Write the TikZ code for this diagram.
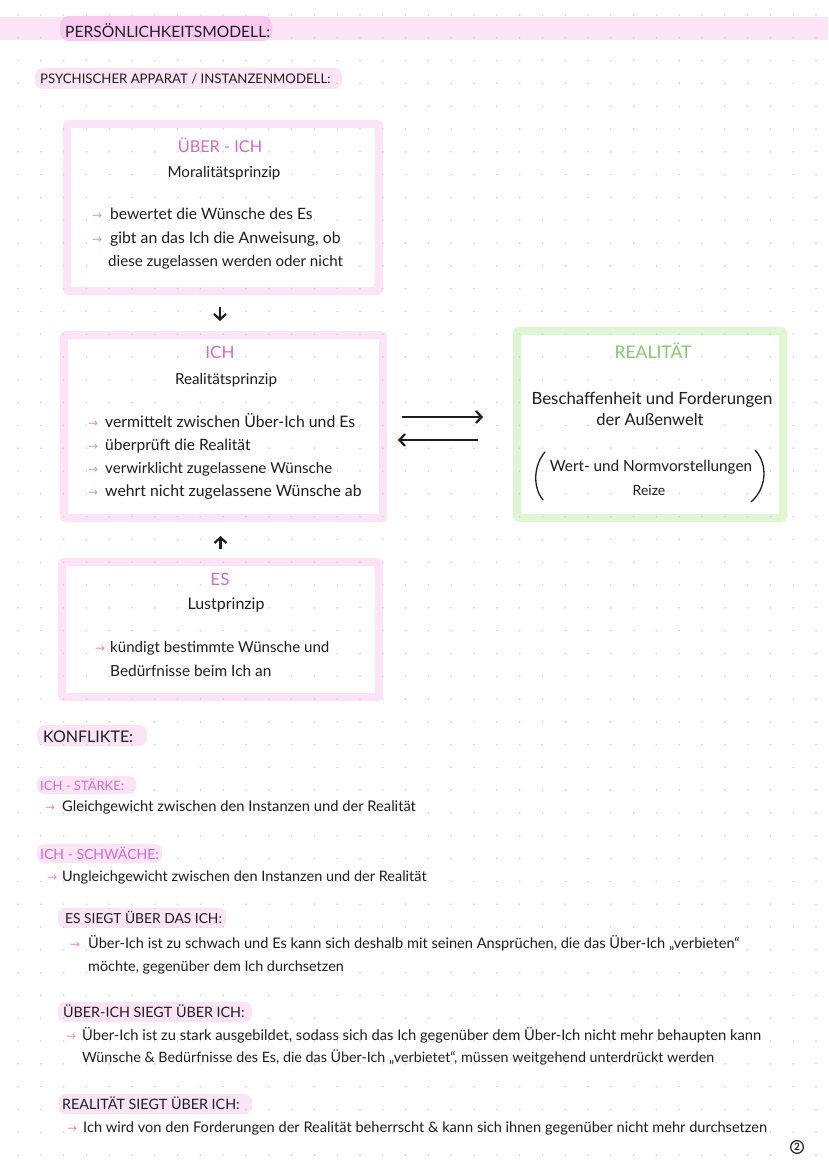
\documentclass[tikz,border=0pt]{standalone}
\usepackage{fontspec}
\setmainfont{Lato}
\newfontfamily\symfont{DejaVu Sans}
\usetikzlibrary{arrows.meta}
\definecolor{pinktxt}{HTML}{D46BC6}
\definecolor{pinkarr}{HTML}{E58AD2}
\definecolor{pinkband}{HTML}{FCE4F7}
\definecolor{pinkhl}{HTML}{F9C8EF}
\definecolor{pinkhl2}{HTML}{FCE4F7}
\definecolor{pinkbord}{HTML}{FCE3F8}
\definecolor{greenbord}{HTML}{DDF7D2}
\definecolor{greentxt}{HTML}{7FCC6C}
\definecolor{ink}{HTML}{1E1E1E}
\definecolor{dotc}{HTML}{D2D2D2}
\newcommand\parr{{\symfont\color{pinkarr}\fontsize{12}{12}\selectfont →}}
\newcommand\bul[1]{\makebox[#1pt][l]{\parr}}
\tikzset{
  pinkbox/.style={draw=pinkbord, line width=8pt, rounded corners=2pt, inner sep=0pt},
  greenbox/.style={draw=greenbord, line width=8pt, rounded corners=2pt, inner sep=0pt},
  fs/.style={font=\fontsize{#1}{#1}\selectfont},
  txt/.style={anchor=base west, inner sep=0pt, text=ink},
  ctxt/.style={anchor=base, inner sep=0pt, text=ink},
  ttl/.style={anchor=base, inner sep=0pt, text=pinktxt, font=\fontsize{17}{17}\selectfont},
  sub/.style={anchor=base west, inner sep=0pt, text=pinktxt},
  arr/.style={-{Straight Barb[length=5.5pt,width=12pt]}, line width=2.2pt, draw=ink},
}
\begin{document}
\begin{tikzpicture}[x=1pt,y=-1pt]
\useasboundingbox (0,0) rectangle (828,1169);
\fill[white] (0,0) rectangle (828,1169);
% highlights
\fill[pinkband] (0,17) rectangle (828,40);
\fill[pinkhl, rounded corners=9pt] (60,16) rectangle (272,41);
\fill[pinkband, rounded corners=8pt] (35,68) rectangle (342,89);
\fill[pinkhl2, rounded corners=8pt] (37,725) rectangle (147,746);
\fill[pinkhl2, rounded corners=7pt] (37,776) rectangle (136,794);
\fill[pinkhl2, rounded corners=7pt] (37,844) rectangle (162,863);
\fill[pinkhl2, rounded corners=7pt] (58,908) rectangle (226,928);
\fill[pinkhl2, rounded corners=7pt] (58,1002) rectangle (252,1022);
\fill[pinkhl2, rounded corners=7pt] (58,1094) rectangle (252,1114);
% boxes
\node[pinkbox, minimum width=312pt, minimum height=167pt] (ueber) at (223,207.5) {};
\node[pinkbox, minimum width=319pt, minimum height=183pt] (ich) at (223.5,426.5) {};
\node[greenbox, minimum width=266pt, minimum height=187pt] (real) at (650,424.5) {};
\node[pinkbox, minimum width=317pt, minimum height=135pt] (es) at (220.5,629.5) {};
% dot grid
\foreach \i in {0,...,35} \foreach \j in {0,...,50}
  \fill[dotc] (18+22.8*\i, 15+22.8*\j) circle (0.9pt);
% headings
\node[txt, fs=15.6] (t1) at (65,38) {PERSÖNLICHKEITSMODELL:};
\node[txt, fs=13.2] (t2) at (40,84) {PSYCHISCHER APPARAT / INSTANZENMODELL:};
% UEBER-ICH
\node[ttl, font=\fontsize{16.3}{16.3}\selectfont] (ueT) at (220,153) {ÜBER - ICH};
\node[ctxt, fs=15.2] (ueP) at (224,178) {Moralitätsprinzip};
\node[txt, fs=15.6] (ue1) at (92,219) {\bul{18}bewertet die Wünsche des Es};
\node[txt, fs=15.8] (ue2) at (92,243) {\bul{18}gibt an das Ich die Anweisung, ob};
\node[txt, fs=15.1] (ue3) at (108,266) {diese zugelassen werden oder nicht};
% ICH
\node[ttl] (ichT) at (220,358) {ICH};
\node[ctxt, fs=15.2] (ichP) at (226,384) {Realitätsprinzip};
\node[txt, fs=15.8] (ich1) at (88,427) {\bul{17}vermittelt zwischen Über-Ich und Es};
\node[txt, fs=15.6] (ich2) at (88,450) {\bul{17}überprüft die Realität};
\node[txt, fs=15.1] (ich3) at (88,473) {\bul{17}verwirklicht zugelassene Wünsche};
\node[txt, fs=15.8] (ich4) at (88,496) {\bul{17}wehrt nicht zugelassene Wünsche ab};
% REALITAET
\node[ttl, text=greentxt, font=\fontsize{17.5}{17.5}\selectfont] (reT) at (653,358) {REALITÄT};
\node[ctxt, fs=16.8] (re1) at (652,404) {Beschaffenheit und Forderungen};
\node[ctxt, fs=16.5] (re2) at (650,425) {der Außenwelt};
\node[ctxt, fs=15.3] (re3) at (651,471) {Wert- und Normvorstellungen};
\node[ctxt, fs=14] (re4) at (649,495) {Reize};
\draw[ink, line width=1.3pt, line cap=round] (545,452) .. controls (533,466) and (533,488) .. (543,500);
\draw[ink, line width=1.3pt, line cap=round] (755,450) .. controls (768,464) and (767,488) .. (751,502);
% ES
\node[ttl] (esT) at (220,585) {ES};
\node[ctxt, fs=16] (esP) at (226,609) {Lustprinzip};
\node[txt, fs=15.1] (es1) at (95,652) {\bul{15}kündigt bestimmte Wünsche und};
\node[txt, fs=15.4] (es2) at (110,676) {Bedürfnisse beim Ich an};
% arrows
\draw[arr] ([xshift=-3pt,yshift=-12pt]ueber.south) -- ([xshift=-3pt,yshift=10pt]ueber.south |- ich.north);
\draw[arr] ([yshift=9pt]es.north) -- ([yshift=-14pt]es.north |- ich.south);
\draw[arr, shorten <=15pt, shorten >=30pt] ([yshift=9.5pt]ich.east) -- ([yshift=9.5pt]ich.east -| real.west);
\draw[arr, shorten <=35pt, shorten >=11pt] ([yshift=-13.5pt]ich.east -| real.west) -- ([yshift=-13.5pt]ich.east);
% KONFLIKTE
\node[txt, fs=16] (k) at (43,742) {KONFLIKTE:};
\node[sub, fs=13] (st) at (40,790) {ICH - STÄRKE:};
\node[txt, fs=14.7] (st1) at (45,811) {\bul{17}Gleichgewicht zwischen den Instanzen und der Realität};
\node[sub, fs=14] (sw) at (40,859) {ICH - SCHWÄCHE:};
\node[txt, fs=14.5] (sw1) at (47,881) {\bul{15}Ungleichgewicht zwischen den Instanzen und der Realität};
\node[txt, fs=13.8] (h1) at (65,923) {ES SIEGT ÜBER DAS ICH:};
\node[txt, fs=14.6] (h1a) at (70,948) {\bul{18}Über-Ich ist zu schwach und Es kann sich deshalb mit seinen Ansprüchen, die das Über-Ich „verbieten“};
\node[txt, fs=14.4] (h1b) at (88,971) {möchte, gegenüber dem Ich durchsetzen};
\node[txt, fs=14.3] (h2) at (63,1017) {ÜBER-ICH SIEGT ÜBER ICH:};
\node[txt, fs=14.7] (h2a) at (66,1040) {\bul{16}Über-Ich ist zu stark ausgebildet, sodass sich das Ich gegenüber dem Über-Ich nicht mehr behaupten kann};
\node[txt, fs=14.3] (h2b) at (82,1062) {Wünsche \& Bedürfnisse des Es, die das Über-Ich „verbietet“, müssen weitgehend unterdrückt werden};
\node[txt, fs=14.3] (h3) at (62,1109) {REALITÄT SIEGT ÜBER ICH:};
\node[txt, fs=14.6] (h3a) at (67,1132) {\bul{16}Ich wird von den Forderungen der Realität beherrscht \& kann sich ihnen gegenüber nicht mehr durchsetzen};
\node[draw=ink, circle, line width=1.2pt, inner sep=1.2pt, text=ink, font=\fontsize{10}{10}\selectfont\bfseries] (pg) at (797,1147) {2};
\end{tikzpicture}
\end{document}
